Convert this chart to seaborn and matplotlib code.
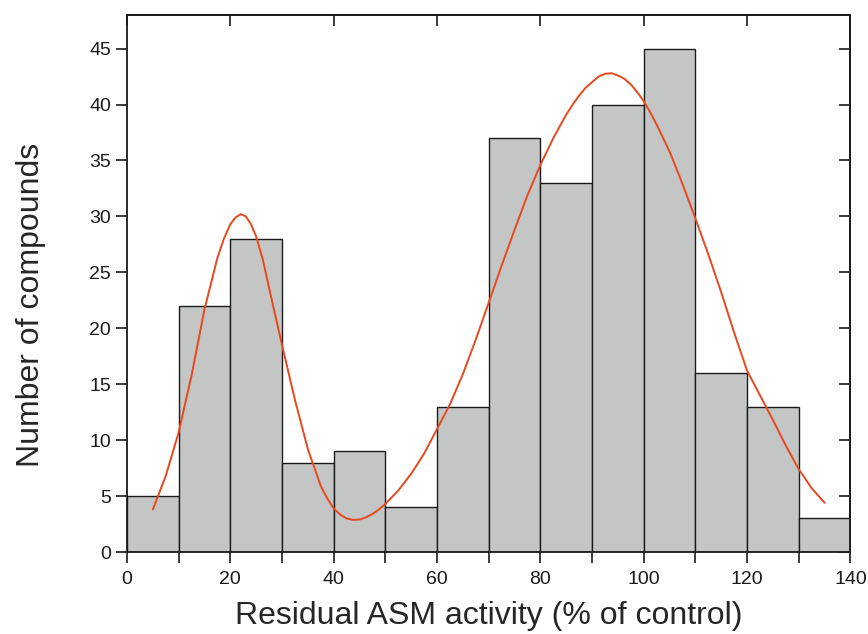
import numpy as np
import pandas as pd
import matplotlib
matplotlib.use('Agg')
import matplotlib.pyplot as plt
import seaborn as sns

# Histogram data (bins of width 10)
bin_edges = [0, 10, 20, 30, 40, 50, 60, 70, 80, 90, 100, 110, 120, 130, 140]
bin_centers = [5, 15, 25, 35, 45, 55, 65, 75, 85, 95, 105, 115, 125, 135]
counts = [5, 22, 28, 8, 9, 4, 13, 37, 33, 40, 45, 16, 13, 3]

# Fitted curve
curve_x = [5, 7.5, 10, 12.5, 15, 17.5, 18.75, 20, 21, 22, 23, 24, 25, 26.25, 27.5,
           30, 32.5, 35, 37.5, 38.75, 40, 41.25, 42.5, 43.75, 45, 46.25, 47.5,
           48.75, 50, 52.5, 55, 57.5, 60, 62.5, 65, 67.5, 70, 72.5, 75, 77.5, 80,
           82.5, 85, 86.25, 87.5, 88.75, 90, 91.25, 92.5, 93.75, 95, 96.25, 97.5,
           98.75, 100, 101.25, 102.5, 105, 107.5, 110, 112.5, 115, 117.5, 120,
           122.5, 125, 127.5, 130, 132.5, 135]
curve_y = [3.8, 6.8, 10.7, 15.8, 21.7, 26.3, 28.0, 29.3, 29.9, 30.2, 30.0, 29.3, 28.2,
           26.2, 23.6, 18.5, 13.6, 9.2, 5.9, 4.8, 3.9, 3.35, 3.0, 2.87, 2.9, 3.1,
           3.4, 3.8, 4.3, 5.5, 7.0, 8.8, 11.0, 13.2, 15.9, 19.0, 22.3, 25.6, 28.8,
           31.9, 34.6, 37.0, 39.1, 40.0, 40.8, 41.5, 42.0, 42.5, 42.75, 42.8, 42.6,
           42.3, 41.8, 41.1, 40.3, 39.3, 38.2, 35.8, 32.9, 29.8, 26.6, 23.2, 19.6,
           16.2, 14.0, 11.8, 9.5, 7.4, 5.7, 4.4]

sns.set_style('ticks')
plt.rcParams['font.family'] = ['Liberation Sans', 'DejaVu Sans']

fig = plt.figure(figsize=(8.68, 6.34), dpi=100)
ax = fig.add_axes([0.1463, 0.1293, 0.8335, 0.847])

hist_df = pd.DataFrame({'x': bin_centers, 'n': counts})
sns.histplot(data=hist_df, x='x', weights='n', bins=bin_edges, ax=ax,
             color='#c4c6c6', alpha=1, edgecolor='#1a1a1a', linewidth=1.0)

curve_df = pd.DataFrame({'x': curve_x, 'y': curve_y})
sns.lineplot(data=curve_df, x='x', y='y', ax=ax, color='#e8481e', linewidth=1.4,
             sort=False)

ax.set_xlim(0, 140)
ax.set_ylim(0, 48)
ax.set_xticks(range(0, 141, 20))
ax.set_xticks(range(10, 140, 20), minor=True)
ax.set_yticks(range(0, 46, 5))
ax.tick_params(axis='both', which='both', direction='out', length=8, width=1.2,
               labelsize=14, color='#1a1a1a', labelcolor='#1a1a1a')
ax.tick_params(axis='x', pad=6)

for s in ax.spines.values():
    s.set_visible(True)
    s.set_linewidth(1.3)
    s.set_color('#1a1a1a')

# inward ticks on top and right, no labels
top = ax.secondary_xaxis('top')
top.set_xticks(range(0, 141, 20))
top.tick_params(direction='in', length=8, width=1.2, labeltop=False, color='#1a1a1a')
top.spines['top'].set_linewidth(1.3)
right = ax.secondary_yaxis('right')
right.set_yticks(range(0, 46, 5))
right.tick_params(direction='in', length=8, width=1.2, labelright=False, color='#1a1a1a')
right.spines['right'].set_linewidth(1.3)

ax.set_xlabel('Residual ASM activity (% of control)', fontsize=23, labelpad=9)
ax.set_ylabel('Number of compounds', fontsize=23, labelpad=31)
ax.yaxis.label.set_y(0.46)

fig.savefig('out.png', dpi=100)
